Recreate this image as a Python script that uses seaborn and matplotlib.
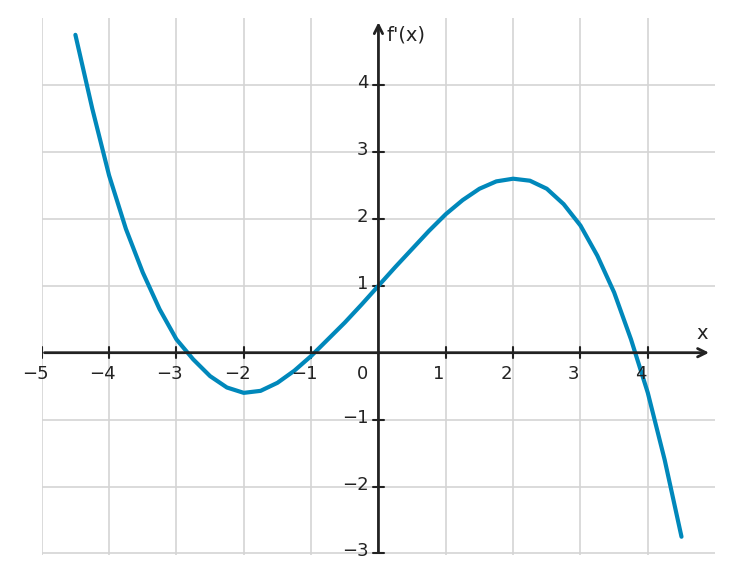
import matplotlib
matplotlib.use("Agg")
import matplotlib.pyplot as plt
import seaborn as sns
import pandas as pd

x_vals = [-4.5,-4.25,-4,-3.75,-3.5,-3.25,-3,-2.75,-2.5,-2.25,-2,-1.75,-1.5,-1.25,-1,-0.75,-0.5,-0.25,0,
          0.25,0.5,0.75,1,1.25,1.5,1.75,2,2.25,2.5,2.75,3,3.25,3.5,3.75,4,4.25,4.5]
y_vals = [4.75,3.65,2.65,1.85,1.2,0.65,0.2,-0.1,-0.35,-0.52,-0.6,-0.57,-0.45,-0.27,-0.05,0.2,0.45,0.72,1.0,
          1.28,1.55,1.82,2.07,2.28,2.45,2.56,2.6,2.57,2.45,2.22,1.9,1.45,0.9,0.2,-0.6,-1.6,-2.75]
x_ticks = [-5,-4,-3,-2,-1,1,2,3,4]
y_ticks = [-3,-2,-1,1,2,3,4]

sns.set_style("white")
fig = plt.figure(figsize=(7.32,5.84), dpi=100)
ax = fig.add_axes([0.057,0.05,0.92,0.919])
df = pd.DataFrame({"x":x_vals,"y":y_vals})
sns.lineplot(data=df, x="x", y="y", ax=ax, color="#0088bb", linewidth=3, zorder=3)
ax.set_xlim(-5,5); ax.set_ylim(-3.02,5)
for s in ax.spines.values(): s.set_visible(False)
for t in x_ticks: ax.axvline(t, color="#d4d4d4", lw=1.2, zorder=0)
for t in y_ticks: ax.axhline(t, color="#d4d4d4", lw=1.2, zorder=0)
ax.set_xticks([]); ax.set_yticks([]); ax.set_xlabel(""); ax.set_ylabel("")
c = "#222222"
ax.annotate("", xy=(4.95,0), xytext=(-5,0), arrowprops=dict(arrowstyle="->", color=c, lw=2, mutation_scale=15))
ax.annotate("", xy=(0,4.98), xytext=(0,-3.02), arrowprops=dict(arrowstyle="->", color=c, lw=2, mutation_scale=15))
for t in x_ticks:
    ax.plot([t,t],[-0.08,0.08], color=c, lw=1.5)
    ax.text(t-0.1, -0.18, "\u2212%d" % -t if t < 0 else str(t), ha="center", va="top", fontsize=13, color=c)
for t in y_ticks:
    ax.plot([-0.08,0.08],[t,t], color=c, lw=1.5)
    ax.text(-0.15, t+0.03, "\u2212%d" % -t if t < 0 else str(t), ha="right", va="center", fontsize=13, color=c)
ax.text(-0.15, -0.18, "0", ha="right", va="top", fontsize=13, color=c)
ax.text(4.8, 0.15, "x", ha="center", va="bottom", fontsize=14, color=c)
ax.text(0.12, 4.75, "f'(x)", ha="left", va="center", fontsize=14, color=c)
fig.savefig("out.png", dpi=100)
